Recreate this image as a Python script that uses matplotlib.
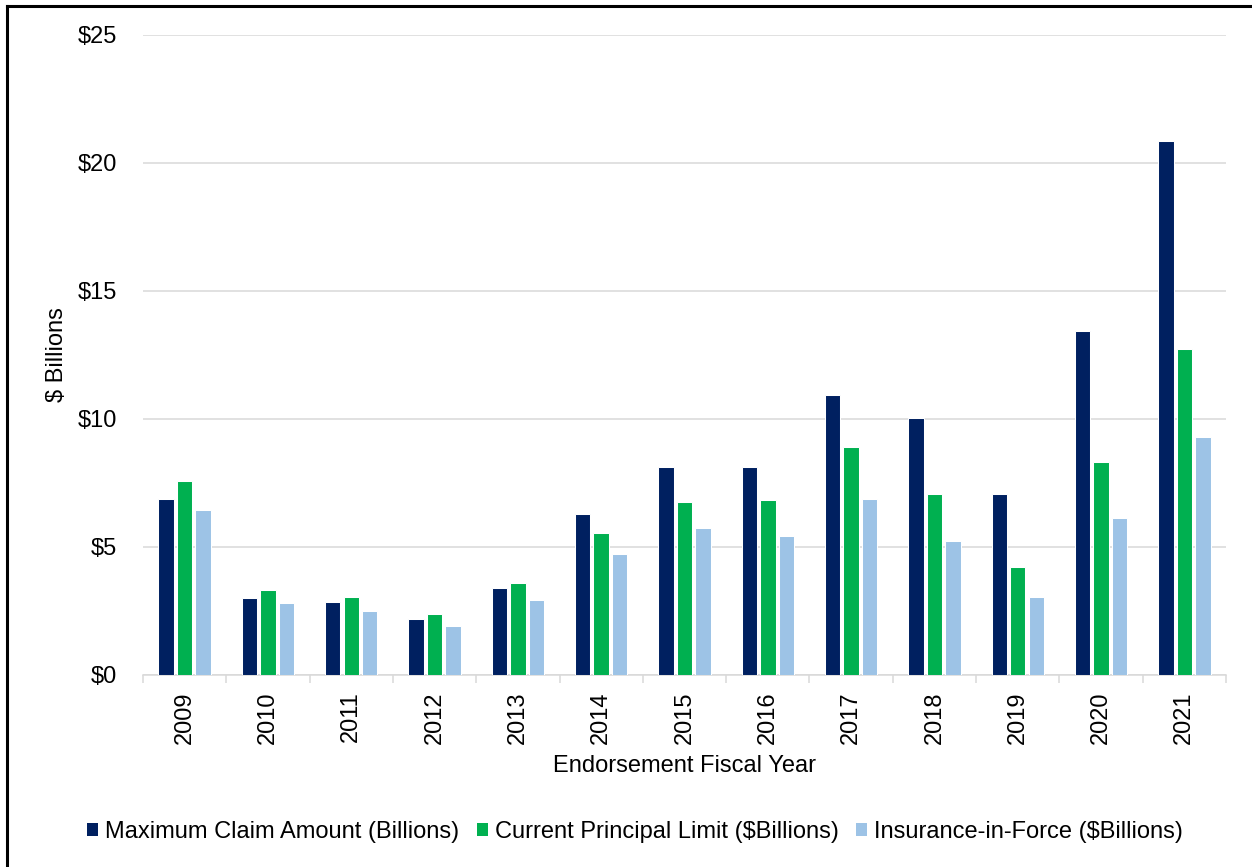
import matplotlib
matplotlib.use("Agg")
import matplotlib.pyplot as plt
from matplotlib.lines import Line2D
from matplotlib.patches import Patch
from matplotlib.ticker import FuncFormatter, FixedLocator
import numpy as np

plt.rcParams['font.family'] = ['Liberation Sans', 'DejaVu Sans']

years = ["2009", "2010", "2011", "2012", "2013", "2014", "2015",
         "2016", "2017", "2018", "2019", "2020", "2021"]
max_claim = [6.86, 2.98, 2.85, 2.16, 3.39, 6.27, 8.10, 8.11, 10.93, 10.01, 7.07, 13.44, 20.84]
principal_limit = [7.55, 3.29, 3.03, 2.35, 3.56, 5.54, 6.76, 6.82, 8.89, 7.06, 4.20, 8.30, 12.71]
insurance_in_force = [6.42, 2.78, 2.48, 1.90, 2.91, 4.71, 5.74, 5.43, 6.87, 5.21, 3.03, 6.10, 9.27]

series_names = ["Maximum Claim Amount (Billions)",
                "Current Principal Limit ($Billions)",
                "Insurance-in-Force ($Billions)"]
colors = ["#002060", "#00B050", "#9DC3E6"]

W, H = 1252, 867
fig = plt.figure(figsize=(W / 100, H / 100), dpi=100)
ax = fig.add_axes([143 / W, 1 - 674.5 / H, (1226 - 143) / W, (674.5 - 35) / H])

x = np.arange(len(years))
pitch = 0.222
bar_w = 0.185
for i, (vals, c) in enumerate(zip([max_claim, principal_limit, insurance_in_force], colors)):
    ax.bar(x + (i - 1) * pitch, vals, width=bar_w, color=c,
           edgecolor="white", linewidth=0.75, zorder=3)

ax.set_xlim(-0.5, len(years) - 0.5)
ax.set_ylim(0, 25)
ax.set_yticks(np.arange(0, 26, 5))
ax.yaxis.set_major_formatter(FuncFormatter(lambda v, p: f"${v:.0f}"))
ax.tick_params(axis="y", length=0, pad=19, labelsize=17, colors="black")
ax.grid(axis="y", color="#d9d9d9", linewidth=1.1, zorder=0)

ax.set_xticks(x)
ax.set_xticklabels(years, rotation=90)
ax.xaxis.set_minor_locator(FixedLocator(np.arange(-0.5, len(years), 1.0)))
ax.tick_params(axis="x", which="major", length=0, pad=12, labelsize=17)
ax.tick_params(axis="x", which="minor", length=6, width=1.1, color="#d9d9d9")

for s in ["top", "right", "left"]:
    ax.spines[s].set_visible(False)
ax.spines["bottom"].set_color("#d9d9d9")
ax.spines["bottom"].set_linewidth(1.1)

fig.text(57 / W, 1 - 355 / H, "$ Billions", rotation=90, ha="center", va="center", fontsize=17)
fig.text(684.5 / W, 1 - 766 / H, "Endorsement Fiscal Year", ha="center", va="center", fontsize=17)

handles = [Patch(facecolor=c, edgecolor="none") for c in colors]
fig.legend(handles, series_names, loc="center", bbox_to_anchor=(635 / W, 1 - 832 / H),
           ncol=3, frameon=False, fontsize=17, handlelength=0.47, handleheight=0.47,
           handletextpad=0.3, columnspacing=0.72, borderaxespad=0)

# outer frame (left and top edges)
fig.add_artist(Line2D([6.5 / W, 6.5 / W], [0, 1 - 5.5 / H], color="black", linewidth=2.2,
                      transform=fig.transFigure))
fig.add_artist(Line2D([6.5 / W, 1], [1 - 5.5 / H, 1 - 5.5 / H], color="black", linewidth=2.2,
                      transform=fig.transFigure))

fig.savefig("out.png", dpi=100, facecolor="white")
